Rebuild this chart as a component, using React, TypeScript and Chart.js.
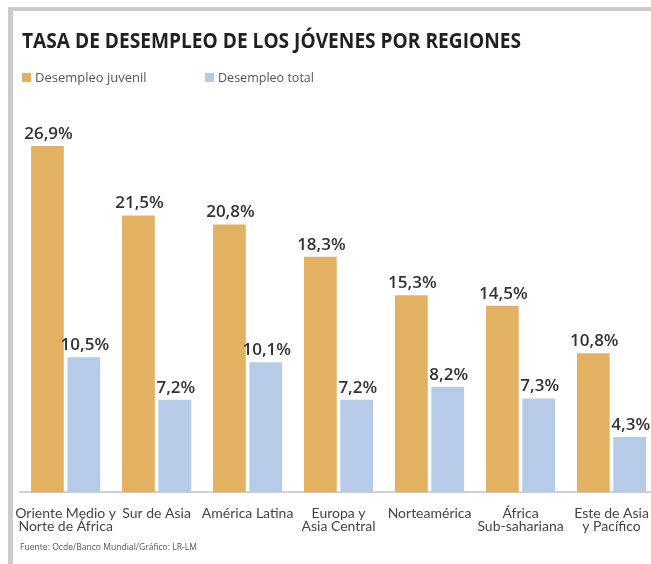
import React, { useEffect, useRef } from "react";
import { Chart, registerables } from "chart.js";

Chart.register(...registerables);

const categories: string[][] = [
  ["Oriente Medio y", "Norte de África"],
  ["Sur de Asia"],
  ["América Latina"],
  ["Europa y", "Asia Central"],
  ["Norteamérica"],
  ["África", "Sub-sahariana"],
  ["Este de Asia", "y Pacífico"],
];
const youthUnemployment: number[] = [26.9, 21.5, 20.8, 18.3, 15.3, 14.5, 10.8];
const totalUnemployment: number[] = [10.5, 7.2, 10.1, 7.2, 8.2, 7.3, 4.3];
const seriesNames: string[] = ["Desempleo juvenil", "Desempleo total"];
const seriesColors: string[] = ["#E3B162", "#B5CBE7"];
const chartTitle = "TASA DE DESEMPLEO DE LOS JÓVENES POR REGIONES";
const sourceText = "Fuente: Ocde/Banco Mundial/Gráfico: LR-LM";

const fmt = (v: number) => v.toFixed(1).replace(".", ",") + "%";

const decorPlugin = {
  id: "decor",
  beforeDraw(chart: any) {
    const ctx = chart.ctx;
    ctx.save();
    ctx.fillStyle = "#ffffff";
    ctx.fillRect(0, 0, chart.width, chart.height);
    // frame
    ctx.fillStyle = "#cbcbcb";
    ctx.fillRect(8, 7, chart.width - 8, 4);
    ctx.fillRect(8, 7, 5, chart.height - 7);
    // title
    ctx.fillStyle = "#231f20";
    ctx.font = "bold 21px 'Open Sans'";
    ctx.textAlign = "left";
    ctx.textBaseline = "alphabetic";
    ctx.fillText(chartTitle, 22, 48, 499);
    // legend
    const legendX = [22, 205];
    const legendTextW = [115, 96];
    ctx.font = "13px 'Open Sans'";
    seriesNames.forEach((name, i) => {
      ctx.fillStyle = seriesColors[i];
      ctx.fillRect(legendX[i], 73, 9, 9);
      ctx.fillStyle = "#555555";
      ctx.fillText(name, legendX[i] + 13, 82, legendTextW[i]);
    });
    // source
    ctx.fillStyle = "#555555";
    ctx.font = "9px 'Open Sans'";
    ctx.fillText(sourceText, 20, 550, 177);
    ctx.restore();
  },
  afterDatasetsDraw(chart: any) {
    const ctx = chart.ctx;
    ctx.save();
    ctx.fillStyle = "#333333";
    ctx.font = "600 17px 'Open Sans'";
    ctx.textAlign = "center";
    ctx.textBaseline = "alphabetic";
    chart.data.datasets.forEach((ds: any, i: number) => {
      const meta = chart.getDatasetMeta(i);
      meta.data.forEach((bar: any, j: number) => {
        ctx.fillText(fmt(ds.data[j]), bar.x + 1, bar.y - 7);
      });
    });
    ctx.restore();
  },
};

export default function App() {
  const ref = useRef<HTMLCanvasElement | null>(null);

  useEffect(() => {
    if (!ref.current) return;
    const chart = new Chart(ref.current, {
      type: "bar",
      data: {
        labels: categories,
        datasets: [
          {
            label: seriesNames[0],
            data: youthUnemployment,
            backgroundColor: seriesColors[0],
            categoryPercentage: 0.8,
            barPercentage: 0.9,
          },
          {
            label: seriesNames[1],
            data: totalUnemployment,
            backgroundColor: seriesColors[1],
            categoryPercentage: 0.8,
            barPercentage: 0.9,
          },
        ],
      },
      options: {
        animation: false,
        responsive: false,
        devicePixelRatio: 1,
        layout: { padding: { top: 106, left: 18, right: 13, bottom: 17 } },
        plugins: {
          legend: { display: false },
          title: { display: false },
          tooltip: { enabled: false },
        },
        scales: {
          x: {
            grid: { display: false, drawTicks: false },
            border: { display: true, color: "#d0d0d0", width: 2 },
            ticks: {
              autoSkip: false,
              maxRotation: 0,
              minRotation: 0,
              padding: 14,
              color: "#444444",
              font: { family: "Lato", size: 14, lineHeight: 0.95 },
            },
          },
          y: {
            display: false,
            min: 0,
            max: 30,
          },
        },
      },
      plugins: [decorPlugin],
    });
    return () => chart.destroy();
  }, []);

  return (
    <div
      style={{
        position: "fixed",
        left: 0,
        top: 0,
        width: 651,
        height: 564,
        overflow: "hidden",
        background: "#ffffff",
      }}
    >
      <canvas ref={ref} width={670} height={564} style={{ width: 670, height: 564, display: "block" }} />
    </div>
  );
}
